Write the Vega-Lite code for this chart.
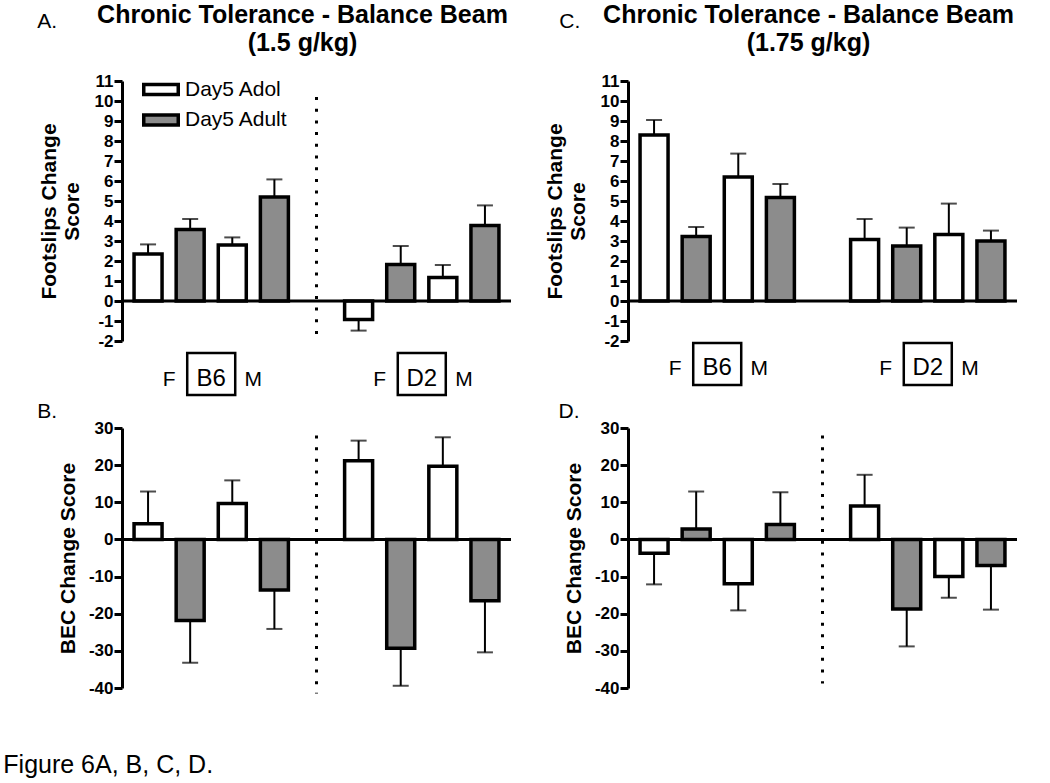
{
  "$schema": "https://vega.github.io/schema/vega-lite/v6.json",
  "padding": {"left": 3, "top": 3, "right": 5, "bottom": 5},
  "background": "white",
  "config": {
    "font": "Liberation Sans",
    "view": {"stroke": null},
    "axis": {
      "domainWidth": 3, "domainColor": "black", "tickWidth": 3, "tickColor": "black", "tickSize": 8,
      "labelFontSize": 17, "labelFontWeight": "bold", "labelColor": "black", "labelPadding": 1,
      "labelOverlap": false, "labelBound": false, "labelExpr": "'' + datum.value",
      "titleFontSize": 21, "titleFontWeight": "bold", "titleColor": "black", "titleLineHeight": 23,
      "grid": false, "minExtent": 28, "maxExtent": 28
    },
    "title": {"color": "black", "font": "Liberation Sans"},
    "text": {"color": "black"}
  },
  "title": {"text": "Figure 6A, B, C, D.", "orient": "bottom", "anchor": "start", "frame": "bounds", "fontSize": 25, "fontWeight": "normal", "dx": -34, "offset": 57},
  "bounds": "flush",
  "columns": 2,
  "spacing": {"row": 87, "column": 117},
  "resolve": {"scale": {"fill": "independent", "x": "independent", "y": "independent"}, "legend": {"fill": "independent"}},
  "datasets": {
    "bars": [
      {"panel": "A", "strain": "B6", "sex": "F", "pos": 1, "group": "Day5 Adol", "mean": 2.35, "err_end": 2.83},
      {"panel": "A", "strain": "B6", "sex": "F", "pos": 2, "group": "Day5 Adult", "mean": 3.58, "err_end": 4.1},
      {"panel": "A", "strain": "B6", "sex": "M", "pos": 3, "group": "Day5 Adol", "mean": 2.8, "err_end": 3.18},
      {"panel": "A", "strain": "B6", "sex": "M", "pos": 4, "group": "Day5 Adult", "mean": 5.2, "err_end": 6.08},
      {"panel": "A", "strain": "D2", "sex": "F", "pos": 6, "group": "Day5 Adol", "mean": -0.92, "err_end": -1.48},
      {"panel": "A", "strain": "D2", "sex": "F", "pos": 7, "group": "Day5 Adult", "mean": 1.83, "err_end": 2.75},
      {"panel": "A", "strain": "D2", "sex": "M", "pos": 8, "group": "Day5 Adol", "mean": 1.18, "err_end": 1.8},
      {"panel": "A", "strain": "D2", "sex": "M", "pos": 9, "group": "Day5 Adult", "mean": 3.78, "err_end": 4.78},
      {"panel": "C", "strain": "B6", "sex": "F", "pos": 1, "group": "Day5 Adol", "mean": 8.3, "err_end": 9.05},
      {"panel": "C", "strain": "B6", "sex": "F", "pos": 2, "group": "Day5 Adult", "mean": 3.22, "err_end": 3.7},
      {"panel": "C", "strain": "B6", "sex": "M", "pos": 3, "group": "Day5 Adol", "mean": 6.2, "err_end": 7.37},
      {"panel": "C", "strain": "B6", "sex": "M", "pos": 4, "group": "Day5 Adult", "mean": 5.18, "err_end": 5.85},
      {"panel": "C", "strain": "D2", "sex": "F", "pos": 6, "group": "Day5 Adol", "mean": 3.08, "err_end": 4.1},
      {"panel": "C", "strain": "D2", "sex": "F", "pos": 7, "group": "Day5 Adult", "mean": 2.75, "err_end": 3.67},
      {"panel": "C", "strain": "D2", "sex": "M", "pos": 8, "group": "Day5 Adol", "mean": 3.33, "err_end": 4.87},
      {"panel": "C", "strain": "D2", "sex": "M", "pos": 9, "group": "Day5 Adult", "mean": 3.0, "err_end": 3.52},
      {"panel": "B", "strain": "B6", "sex": "F", "pos": 1, "group": "Day5 Adol", "mean": 4.2, "err_end": 12.9},
      {"panel": "B", "strain": "B6", "sex": "F", "pos": 2, "group": "Day5 Adult", "mean": -21.8, "err_end": -33.2},
      {"panel": "B", "strain": "B6", "sex": "M", "pos": 3, "group": "Day5 Adol", "mean": 9.7, "err_end": 15.9},
      {"panel": "B", "strain": "B6", "sex": "M", "pos": 4, "group": "Day5 Adult", "mean": -13.6, "err_end": -24.1},
      {"panel": "B", "strain": "D2", "sex": "F", "pos": 6, "group": "Day5 Adol", "mean": 21.2, "err_end": 26.6},
      {"panel": "B", "strain": "D2", "sex": "F", "pos": 7, "group": "Day5 Adult", "mean": -29.3, "err_end": -39.4},
      {"panel": "B", "strain": "D2", "sex": "M", "pos": 8, "group": "Day5 Adol", "mean": 19.7, "err_end": 27.5},
      {"panel": "B", "strain": "D2", "sex": "M", "pos": 9, "group": "Day5 Adult", "mean": -16.5, "err_end": -30.4},
      {"panel": "D", "strain": "B6", "sex": "F", "pos": 1, "group": "Day5 Adol", "mean": -3.7, "err_end": -12.1},
      {"panel": "D", "strain": "B6", "sex": "F", "pos": 2, "group": "Day5 Adult", "mean": 2.8, "err_end": 12.9},
      {"panel": "D", "strain": "B6", "sex": "M", "pos": 3, "group": "Day5 Adol", "mean": -11.9, "err_end": -19.1},
      {"panel": "D", "strain": "B6", "sex": "M", "pos": 4, "group": "Day5 Adult", "mean": 4.0, "err_end": 12.7},
      {"panel": "D", "strain": "D2", "sex": "F", "pos": 6, "group": "Day5 Adol", "mean": 9.0, "err_end": 17.4},
      {"panel": "D", "strain": "D2", "sex": "F", "pos": 7, "group": "Day5 Adult", "mean": -18.7, "err_end": -28.8},
      {"panel": "D", "strain": "D2", "sex": "M", "pos": 8, "group": "Day5 Adol", "mean": -10.0, "err_end": -15.7},
      {"panel": "D", "strain": "D2", "sex": "M", "pos": 9, "group": "Day5 Adult", "mean": -7.0, "err_end": -18.9}
    ],
    "labels": [
      {"pos": 1.5, "label": "F", "kind": "sex"},
      {"pos": 2.5, "label": "B6", "kind": "strain"},
      {"pos": 3.5, "label": "M", "kind": "sex"},
      {"pos": 6.5, "label": "F", "kind": "sex"},
      {"pos": 7.5, "label": "D2", "kind": "strain"},
      {"pos": 8.5, "label": "M", "kind": "sex"}
    ],
    "one": [{}]
  },
  "concat": [
    {
      "width": 389, "height": 260,
      "title": {"text": ["Chronic Tolerance - Balance Beam", "(1.5 g/kg)"], "frame": "group", "anchor": "middle", "dx": -14, "fontSize": 25, "fontWeight": "bold", "lineHeight": 28, "offset": -45},
      "layer": [
        {"data": {"name": "bars"}, "transform": [{"filter": "datum.panel === 'A'"}],
         "mark": {"type": "rule", "strokeWidth": 2, "color": "black"},
         "encoding": {
           "x": {"field": "pos", "type": "quantitative", "scale": {"domain": [0.5, 9.5], "nice": false, "zero": false}, "axis": null},
           "y": {"field": "mean", "type": "quantitative", "scale": {"domain": [-2, 11], "nice": false, "zero": false},
                 "axis": {"values": [-2, -1, 0, 1, 2, 3, 4, 5, 6, 7, 8, 9, 10, 11], "tickCount": 30, "labelOverlap": false, "title": ["Footslips Change", "Score"], "titlePadding": 12}},
           "y2": {"field": "err_end"}}},
        {"data": {"name": "bars"}, "transform": [{"filter": "datum.panel === 'A'"}],
         "mark": {"type": "tick", "orient": "horizontal", "size": 16, "thickness": 2, "color": "black"},
         "encoding": {"x": {"field": "pos", "type": "quantitative"}, "y": {"field": "err_end", "type": "quantitative",
                 "axis": {"values": [-2, -1, 0, 1, 2, 3, 4, 5, 6, 7, 8, 9, 10, 11], "tickCount": 30, "labelOverlap": false, "title": ["Footslips Change", "Score"], "titlePadding": 12}}}},
        {"data": {"name": "bars"}, "transform": [{"filter": "datum.panel === 'A'"}],
         "mark": {"type": "bar", "width": 28, "stroke": "black", "strokeWidth": 3.5},
         "encoding": {
           "x": {"field": "pos", "type": "quantitative"},
           "y": {"field": "mean", "type": "quantitative",
                 "axis": {"values": [-2, -1, 0, 1, 2, 3, 4, 5, 6, 7, 8, 9, 10, 11], "tickCount": 30, "labelOverlap": false, "title": ["Footslips Change", "Score"], "titlePadding": 12}},
           "y2": {"datum": 0},
           "fill": {"field": "group", "type": "nominal", "scale": {"domain": ["Day5 Adol", "Day5 Adult"], "range": ["white", "#8c8c8c"]},
                    "legend": {"orient": "none", "legendX": 20, "legendY": -4, "title": null, "symbolType": "M-1,-0.29H1V0.29H-1Z", "symbolSize": 1190,
                               "symbolStrokeColor": "black", "symbolStrokeWidth": 3.5, "symbolOpacity": 1, "labelFontSize": 21, "labelColor": "black",
                               "labelOffset": 5, "clipHeight": 25, "rowPadding": 5.5, "labelLimit": 300}}}},
        {"data": {"name": "one"}, "mark": {"type": "rule", "strokeWidth": 3, "color": "black"}, "encoding": {"y": {"datum": 0}}},
        {"data": {"name": "one"}, "mark": {"type": "rule", "strokeWidth": 3, "color": "black", "strokeDash": [3, 8.7]},
         "encoding": {"x": {"datum": 5}, "y": {"datum": 10.2}, "y2": {"datum": -2.05}}},
        {"data": {"name": "labels"}, "transform": [{"filter": "datum.kind === 'strain'"}],
         "mark": {"type": "point", "shape": "M-1,-0.875H1V0.875H-1Z", "size": 2304, "filled": false, "stroke": "black", "strokeWidth": 2.5, "opacity": 1},
         "encoding": {"x": {"field": "pos", "type": "quantitative"}, "y": {"datum": -3.65}}},
        {"data": {"name": "labels"},
         "mark": {"type": "text", "baseline": "alphabetic", "align": "center"},
         "encoding": {"x": {"field": "pos", "type": "quantitative"}, "y": {"datum": -4.27}, "text": {"field": "label"},
                      "size": {"condition": {"test": "datum.kind === 'strain'", "value": 24}, "value": 21}}},
        {"data": {"name": "one"}, "mark": {"type": "text", "text": "A.", "align": "left", "baseline": "alphabetic", "fontSize": 21},
         "encoding": {"x": {"datum": -1.63}, "y": {"datum": 13.65}}}
      ]
    },
    {
      "width": 389, "height": 260,
      "title": {"text": ["Chronic Tolerance - Balance Beam", "(1.75 g/kg)"], "frame": "group", "anchor": "middle", "dx": -14, "fontSize": 25, "fontWeight": "bold", "lineHeight": 28, "offset": -45},
      "layer": [
        {"data": {"name": "bars"}, "transform": [{"filter": "datum.panel === 'C'"}],
         "mark": {"type": "rule", "strokeWidth": 2, "color": "black"},
         "encoding": {
           "x": {"field": "pos", "type": "quantitative", "scale": {"domain": [0.5, 9.5], "nice": false, "zero": false}, "axis": null},
           "y": {"field": "mean", "type": "quantitative", "scale": {"domain": [-2, 11], "nice": false, "zero": false},
                 "axis": {"values": [-2, -1, 0, 1, 2, 3, 4, 5, 6, 7, 8, 9, 10, 11], "tickCount": 30, "labelOverlap": false, "title": ["Footslips Change", "Score"], "titlePadding": 12}},
           "y2": {"field": "err_end"}}},
        {"data": {"name": "bars"}, "transform": [{"filter": "datum.panel === 'C'"}],
         "mark": {"type": "tick", "orient": "horizontal", "size": 16, "thickness": 2, "color": "black"},
         "encoding": {"x": {"field": "pos", "type": "quantitative"}, "y": {"field": "err_end", "type": "quantitative",
                 "axis": {"values": [-2, -1, 0, 1, 2, 3, 4, 5, 6, 7, 8, 9, 10, 11], "tickCount": 30, "labelOverlap": false, "title": ["Footslips Change", "Score"], "titlePadding": 12}}}},
        {"data": {"name": "bars"}, "transform": [{"filter": "datum.panel === 'C'"}],
         "mark": {"type": "bar", "width": 28, "stroke": "black", "strokeWidth": 3.5},
         "encoding": {
           "x": {"field": "pos", "type": "quantitative"},
           "y": {"field": "mean", "type": "quantitative",
                 "axis": {"values": [-2, -1, 0, 1, 2, 3, 4, 5, 6, 7, 8, 9, 10, 11], "tickCount": 30, "labelOverlap": false, "title": ["Footslips Change", "Score"], "titlePadding": 12}},
           "y2": {"datum": 0},
           "fill": {"field": "group", "type": "nominal", "scale": {"domain": ["Day5 Adol", "Day5 Adult"], "range": ["white", "#8c8c8c"]}, "legend": null}}},
        {"data": {"name": "one"}, "mark": {"type": "rule", "strokeWidth": 3, "color": "black"}, "encoding": {"y": {"datum": 0}}},
        {"data": {"name": "labels"}, "transform": [{"filter": "datum.kind === 'strain'"}],
         "mark": {"type": "point", "shape": "M-1,-0.875H1V0.875H-1Z", "size": 2304, "filled": false, "stroke": "black", "strokeWidth": 2.5, "opacity": 1},
         "encoding": {"x": {"field": "pos", "type": "quantitative"}, "y": {"datum": -3.15}}},
        {"data": {"name": "labels"},
         "mark": {"type": "text", "baseline": "alphabetic", "align": "center"},
         "encoding": {"x": {"field": "pos", "type": "quantitative"}, "y": {"datum": -3.7}, "text": {"field": "label"},
                      "size": {"condition": {"test": "datum.kind === 'strain'", "value": 24}, "value": 21}}},
        {"data": {"name": "one"}, "mark": {"type": "text", "text": "C.", "align": "left", "baseline": "alphabetic", "fontSize": 21},
         "encoding": {"x": {"datum": -1.25}, "y": {"datum": 13.65}}}
      ]
    },
    {
      "width": 389, "height": 260,
      "layer": [
        {"data": {"name": "bars"}, "transform": [{"filter": "datum.panel === 'B'"}],
         "mark": {"type": "rule", "strokeWidth": 2, "color": "black"},
         "encoding": {
           "x": {"field": "pos", "type": "quantitative", "scale": {"domain": [0.5, 9.5], "nice": false, "zero": false}, "axis": null},
           "y": {"field": "mean", "type": "quantitative", "scale": {"domain": [-40, 30], "nice": false, "zero": false},
                 "axis": {"values": [-40, -30, -20, -10, 0, 10, 20, 30], "tickCount": 30, "labelOverlap": false, "title": "BEC Change Score", "titlePadding": 16}},
           "y2": {"field": "err_end"}}},
        {"data": {"name": "bars"}, "transform": [{"filter": "datum.panel === 'B'"}],
         "mark": {"type": "tick", "orient": "horizontal", "size": 16, "thickness": 2, "color": "black"},
         "encoding": {"x": {"field": "pos", "type": "quantitative"}, "y": {"field": "err_end", "type": "quantitative",
                 "axis": {"values": [-40, -30, -20, -10, 0, 10, 20, 30], "tickCount": 30, "labelOverlap": false, "title": "BEC Change Score", "titlePadding": 16}}}},
        {"data": {"name": "bars"}, "transform": [{"filter": "datum.panel === 'B'"}],
         "mark": {"type": "bar", "width": 28, "stroke": "black", "strokeWidth": 3.5},
         "encoding": {
           "x": {"field": "pos", "type": "quantitative"},
           "y": {"field": "mean", "type": "quantitative",
                 "axis": {"values": [-40, -30, -20, -10, 0, 10, 20, 30], "tickCount": 30, "labelOverlap": false, "title": "BEC Change Score", "titlePadding": 16}},
           "y2": {"datum": 0},
           "fill": {"field": "group", "type": "nominal", "scale": {"domain": ["Day5 Adol", "Day5 Adult"], "range": ["white", "#8c8c8c"]}, "legend": null}}},
        {"data": {"name": "one"}, "mark": {"type": "rule", "strokeWidth": 3, "color": "black"}, "encoding": {"y": {"datum": 0}}},
        {"data": {"name": "one"}, "mark": {"type": "rule", "strokeWidth": 3, "color": "black", "strokeDash": [3, 8.7]},
         "encoding": {"x": {"datum": 5}, "y": {"datum": 28}, "y2": {"datum": -41.5}}},
        {"data": {"name": "one"}, "mark": {"type": "text", "text": "B.", "align": "left", "baseline": "alphabetic", "fontSize": 21},
         "encoding": {"x": {"datum": -1.63}, "y": {"datum": 32.7}}}
      ]
    },
    {
      "width": 389, "height": 260,
      "layer": [
        {"data": {"name": "bars"}, "transform": [{"filter": "datum.panel === 'D'"}],
         "mark": {"type": "rule", "strokeWidth": 2, "color": "black"},
         "encoding": {
           "x": {"field": "pos", "type": "quantitative", "scale": {"domain": [0.5, 9.5], "nice": false, "zero": false}, "axis": null},
           "y": {"field": "mean", "type": "quantitative", "scale": {"domain": [-40, 30], "nice": false, "zero": false},
                 "axis": {"values": [-40, -30, -20, -10, 0, 10, 20, 30], "tickCount": 30, "labelOverlap": false, "title": "BEC Change Score", "titlePadding": 16}},
           "y2": {"field": "err_end"}}},
        {"data": {"name": "bars"}, "transform": [{"filter": "datum.panel === 'D'"}],
         "mark": {"type": "tick", "orient": "horizontal", "size": 16, "thickness": 2, "color": "black"},
         "encoding": {"x": {"field": "pos", "type": "quantitative"}, "y": {"field": "err_end", "type": "quantitative",
                 "axis": {"values": [-40, -30, -20, -10, 0, 10, 20, 30], "tickCount": 30, "labelOverlap": false, "title": "BEC Change Score", "titlePadding": 16}}}},
        {"data": {"name": "bars"}, "transform": [{"filter": "datum.panel === 'D'"}],
         "mark": {"type": "bar", "width": 28, "stroke": "black", "strokeWidth": 3.5},
         "encoding": {
           "x": {"field": "pos", "type": "quantitative"},
           "y": {"field": "mean", "type": "quantitative",
                 "axis": {"values": [-40, -30, -20, -10, 0, 10, 20, 30], "tickCount": 30, "labelOverlap": false, "title": "BEC Change Score", "titlePadding": 16}},
           "y2": {"datum": 0},
           "fill": {"field": "group", "type": "nominal", "scale": {"domain": ["Day5 Adol", "Day5 Adult"], "range": ["white", "#8c8c8c"]}, "legend": null}}},
        {"data": {"name": "one"}, "mark": {"type": "rule", "strokeWidth": 3, "color": "black"}, "encoding": {"y": {"datum": 0}}},
        {"data": {"name": "one"}, "mark": {"type": "rule", "strokeWidth": 3, "color": "black", "strokeDash": [3, 8.7]},
         "encoding": {"x": {"datum": 5}, "y": {"datum": 28}, "y2": {"datum": -38.8}}},
        {"data": {"name": "one"}, "mark": {"type": "text", "text": "D.", "align": "left", "baseline": "alphabetic", "fontSize": 21},
         "encoding": {"x": {"datum": -1.27}, "y": {"datum": 32.8}}}
      ]
    }
  ]
}
